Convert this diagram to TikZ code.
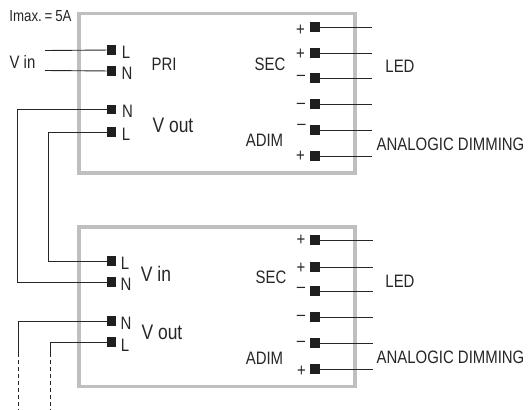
\documentclass[tikz,border=0pt]{standalone}
\usepackage{fontspec}
\usepackage{tikz}
\usepackage{xcolor}
\setmainfont[FakeStretch=0.83]{Liberation Sans}
\definecolor{box-gray}{gray}{0.75}
\tikzset{
    module-box/.style = {draw=box-gray, line width=3.5pt, rectangle, minimum width=276pt, minimum height=159.5pt, inner sep=0pt, anchor=north west},
    pin-box/.style = {fill=black!88, rectangle, minimum size=9.5pt, inner sep=0pt},
    wire/.style = {draw=black!85, line width=0.9pt},
    lbl/.style = {inner sep=0pt, text=black!85, font=\fontsize{18}{18}\selectfont},
    small-lbl/.style = {inner sep=0pt, text=black!85, font=\fontsize{16}{16}\selectfont},
    big-lbl/.style = {inner sep=0pt, text=black!85, font=\fontsize{21}{21}\selectfont},
}

\begin{document}
\begin{tikzpicture}[x=1pt,y=-1pt]
\useasboundingbox (0,0) rectangle (528,410);

% first module
\node [module-box] (box1) at (77,11.5) {};
\node [small-lbl] (imax) at (40.5,16.5) {Imax.$\,$=$\,$5A};
\node [lbl] (vin1) at (22.5,62) {V in};
\node [lbl] (pri) at (164,64) {PRI};
\node [big-lbl] (vout1) at (173,125) {V out};
\node [lbl] (sec1) at (270,64) {SEC};
\node [lbl] (adim1) at (264.5,140) {ADIM};
\node [lbl] (led1) at (400,66) {LED};
\node [lbl] (dim1) at (450.5,144) {ANALOGIC DIMMING};

\node [pin-box] (l1) at (111.5,50) {};
\node [pin-box] (n1) at (111.5,71) {};
\node [pin-box] (nout1) at (111.5,109.5) {};
\node [pin-box] (lout1) at (111.5,132) {};
\node [lbl] (tl1) at (126,52) {L};
\node [lbl] (tn1) at (127,73) {N};
\node [lbl] (tnout1) at (127.5,111) {N};
\node [lbl] (tlout1) at (126,134) {L};

\coordinate (inl) at (45,50.5);
\coordinate (inn) at (45,70.5);
\draw [wire] (inl) -- (l1);
\draw [wire] (inn) -- (n1);

% second module
\node [module-box] (box2) at (77,225) {};
\node [big-lbl] (vin2) at (156,274) {V in};
\node [big-lbl] (vout2) at (162,332) {V out};
\node [lbl] (sec2) at (271,277) {SEC};
\node [lbl] (adim2) at (264.5,358) {ADIM};
\node [lbl] (led2) at (400,281) {LED};
\node [lbl] (dim2) at (450.5,357) {ANALOGIC DIMMING};

\node [pin-box] (l2) at (111.5,261) {};
\node [pin-box] (n2) at (111.5,282) {};
\node [pin-box] (nout2) at (111.5,321) {};
\node [pin-box] (lout2) at (111.5,342) {};
\node [lbl] (tl2) at (125,263) {L};
\node [lbl] (tn2) at (126,284) {N};
\node [lbl] (tnout2) at (126,323) {N};
\node [lbl] (tlout2) at (125,345) {L};

% links between modules
\draw [wire] (nout1) -| (17.5,282) -- (n2);
\draw [wire] (lout1) -| (48,261) -- (l2);

\coordinate (stubn) at (18.5,353);
\coordinate (stubl) at (50,353);
\coordinate (endn) at (18.5,410);
\coordinate (endl) at (50,410);
\draw [wire] (nout2) -| (stubn);
\draw [wire] (lout2) -| (stubl);
\draw [wire, dash pattern=on 4pt off 3pt] (stubn) -- (endn);
\draw [wire, dash pattern=on 4pt off 3pt] (stubl) -- (endl);

% output pins
\foreach \n/\y/\s/\ty/\tx in {1/27/+/30/300.5, 2/53/+/54/300.5, 3/78/\textendash/78/301, 4/104/\textendash/106/301, 5/130/\textendash/127/301.5, 6/156/+/156.5/300.5}{
    \node [pin-box] (a\n) at (315,\y) {};
    \coordinate (ae\n) at (372,\y);
    \node [lbl] (as\n) at (\tx,\ty) {\s};
    \draw [wire] (a\n) -- (ae\n);
}
\foreach \n/\y/\s/\ty/\tx in {1/240/+/240/301, 2/267/+/268/301, 3/291/\textendash/290/301, 4/317/\textendash/318/301, 5/343/\textendash/344/301, 6/369/+/371/301.5}{
    \node [pin-box] (b\n) at (315,\y) {};
    \coordinate (be\n) at (373,\y);
    \node [lbl] (bs\n) at (\tx,\ty) {\s};
    \draw [wire] (b\n) -- (be\n);
}
\end{tikzpicture}
\end{document}
